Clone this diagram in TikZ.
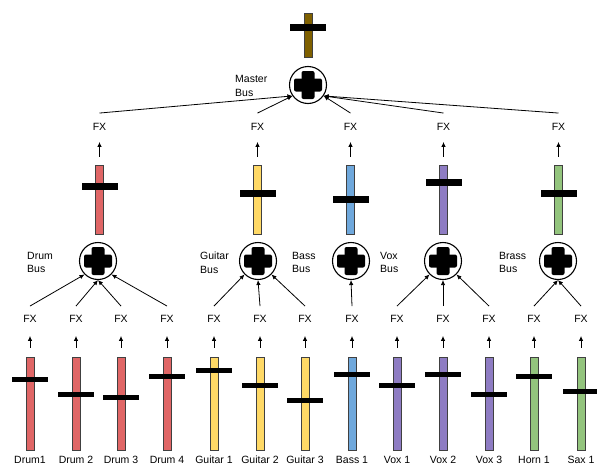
\documentclass[tikz,border=0pt]{standalone}
\usepackage{fontspec}
\setmainfont{Liberation Sans}
\usepackage{tikz}
\usetikzlibrary{arrows.meta,positioning}
\definecolor{drumred}{HTML}{E06666}
\definecolor{gtryellow}{HTML}{FFD966}
\definecolor{bassblue}{HTML}{6FA8DC}
\definecolor{voxpurple}{HTML}{8E7CC3}
\definecolor{brassgreen}{HTML}{93C47D}
\definecolor{masterbrown}{HTML}{7F6000}
% channel strip: name, x, knob y, colour, label
\newcommand{\chstrip}[5]{%
  \node[fader, fill=#4, minimum height=93pt] (#1) at (#2,403.5) {};
  \node[knob] (#1-knob) at (#2,#3) {};
  \node[lbl] (#1-name) at (#2,460) {#5};
  \node[lbl] (#1-fx) at (#2,319) {FX};
  \draw[feed, shorten <=9pt, shorten >=12pt] (#1) -- (#1-fx);
}
% bus strip: name, x, knob y, colour
\newcommand{\busstrip}[4]{%
  \node[fader, fill=#4, minimum height=69pt] (#1-fader) at (#2,199.5) {};
  \node[bigknob] (#1-knob) at (#2,#3) {};
  \node[lbl] (#1-fx) at (#2,127) {FX};
  \draw[feed, shorten <=8pt, shorten >=10pt] (#1-fader) -- (#1-fx);
}

\begin{document}
\begin{tikzpicture}[
    x=1pt, y=-1pt,
    font=\fontsize{10.5pt}{13.5pt}\selectfont,
    fader/.style={rectangle, draw=black!75, line width=0.7pt, inner sep=0, minimum width=8pt},
    knob/.style={rectangle, fill=black, inner sep=0, minimum width=36pt, minimum height=5pt},
    bigknob/.style={knob, minimum height=7pt},
    lbl/.style={inner sep=1pt, text height=7.5pt, text depth=0pt},
    buslbl/.style={align=left, anchor=west, inner sep=0},
    feed/.style={-{Latex[length=5pt,width=4.5pt]}, line width=0.8pt},
    bus/.style={circle, draw, line width=1.1pt, minimum size=37pt, inner sep=0,
        path picture={
            \begin{scope}[shift={(path picture bounding box.center)}, rounded corners=2pt]
            \fill (-6.5,-14) rectangle (6.5,14);
            \fill (-14,-6.5) rectangle (14,6.5);
            \end{scope}
        }},
]
\useasboundingbox (0,0) rectangle (597,466);

% input channels
\chstrip{drum1}{30}{379}{drumred}{Drum1}
\chstrip{drum2}{76}{394}{drumred}{Drum 2}
\chstrip{drum3}{121}{397}{drumred}{Drum 3}
\chstrip{drum4}{167}{376}{drumred}{Drum 4}
\chstrip{gtr1}{214}{370}{gtryellow}{Guitar 1}
\chstrip{gtr2}{260}{385}{gtryellow}{Guitar 2}
\chstrip{gtr3}{305}{400}{gtryellow}{Guitar 3}
\chstrip{bass1}{352}{374}{bassblue}{Bass 1}
\chstrip{vox1}{397}{385}{voxpurple}{Vox 1}
\chstrip{vox2}{443}{374}{voxpurple}{Vox 2}
\chstrip{vox3}{489}{394}{voxpurple}{Vox 3}
\chstrip{horn1}{534}{376}{brassgreen}{Horn 1}
\chstrip{sax1}{581}{391}{brassgreen}{Sax 1}

% group busses
\node[bus] (drumbus) at (98,261) {};
\node[bus] (gtrbus) at (258,261) {};
\node[bus] (bassbus) at (351,261) {};
\node[bus] (voxbus) at (443,261) {};
\node[bus] (brassbus) at (558,261) {};

\node[buslbl] (drumbus-lbl) at (27,262.5) {Drum\\Bus};
\node[buslbl] (gtrbus-lbl) at (200,262.5) {Guitar\\Bus};
\node[buslbl] (bassbus-lbl) at (292,262.5) {Bass\\Bus};
\node[buslbl] (voxbus-lbl) at (380,262.5) {Vox\\Bus};
\node[buslbl] (brassbus-lbl) at (499,262.5) {Brass\\Bus};

\draw[feed] ([yshift=8pt]drum1-fx.north) -- (drumbus.south west);
\draw[feed] ([yshift=8pt]drum2-fx.north) -- (drumbus.south);
\draw[feed] ([yshift=8pt]drum3-fx.north) -- (drumbus.south);
\draw[feed] ([yshift=8pt]drum4-fx.north) -- (drumbus.south east);
\draw[feed] ([yshift=8pt]gtr1-fx.north) -- (gtrbus.south west);
\draw[feed] ([yshift=8pt]gtr2-fx.north) -- (gtrbus.south);
\draw[feed] ([yshift=8pt]gtr3-fx.north) -- (gtrbus.south east);
\draw[feed] ([yshift=8pt]bass1-fx.north) -- (bassbus.south);
\draw[feed] ([yshift=8pt]vox1-fx.north) -- (voxbus.south west);
\draw[feed] ([yshift=8pt]vox2-fx.north) -- (voxbus.south);
\draw[feed] ([yshift=8pt]vox3-fx.north) -- (voxbus.south east);
\draw[feed] ([yshift=8pt]horn1-fx.north) -- (brassbus.south);
\draw[feed] ([yshift=8pt]sax1-fx.north) -- (brassbus.south);

% bus faders
\busstrip{drumbus}{99.5}{186}{drumred}
\busstrip{gtrbus}{257.5}{193}{gtryellow}
\busstrip{bassbus}{350.5}{199}{bassblue}
\busstrip{voxbus}{443.5}{182}{voxpurple}
\busstrip{brassbus}{558.5}{193}{brassgreen}

% master
\node[bus] (master) at (308,85) {};
\node[buslbl] (master-lbl) at (235,86) {Master\\Bus};
\node[fader, fill=masterbrown, minimum height=44pt] (master-fader) at (308,35) {};
\node[bigknob] (master-knob) at (308,27) {};

\draw[feed] ([yshift=9pt]drumbus-fx.north) -- (master.215);
\draw[feed] ([yshift=9pt]gtrbus-fx.north) -- (master.215);
\draw[feed] ([yshift=9pt]bassbus-fx.north) -- (master.325);
\draw[feed] ([yshift=9pt]voxbus-fx.north) -- (master.325);
\draw[feed] ([yshift=9pt]brassbus-fx.north) -- (master.325);

\end{tikzpicture}
\end{document}
